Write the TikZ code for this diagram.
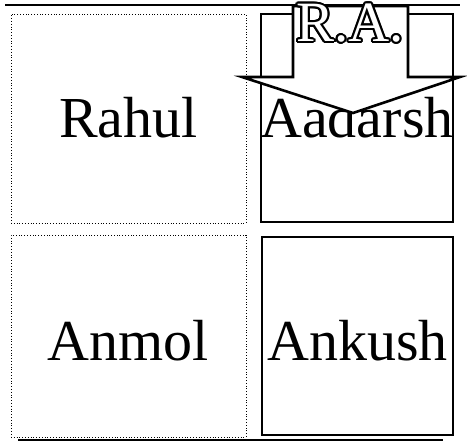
\documentclass[tikz,border=0pt]{standalone}
\usepackage{fontspec}
\setmainfont{Liberation Serif}
\usepackage{contour}
\contourlength{2pt}
\usetikzlibrary{positioning}

\begin{document}
\begin{tikzpicture}[
  x=1pt, y=-1pt,
  cell/.style={draw, inner sep=0pt},
  loosecell/.style={cell, dotted, line width=0.8pt},
  tightcell/.style={cell, line width=2pt},
  person/.style={inner sep=0pt, font=\fontsize{58}{60}\selectfont},
  blockarrow/.style={draw, fill=white, line width=2.6pt, line join=miter},
  rule/.style={line width=2pt}
]
  \useasboundingbox (0,0) rectangle (467,445);

  % frame lines
  \coordinate (topl) at (5,5);
  \coordinate (topr) at (460,5);
  \coordinate (botl) at (18,440);
  \coordinate (botr) at (443,440);
  \draw[rule] (topl) -- (topr);
  \draw[rule] (botl) -- (botr);

  % the four cells
  \node[loosecell, minimum width=235pt, minimum height=209pt] (rahulcell) at (128.5,118.5) {};
  \node[tightcell, minimum width=192pt, minimum height=208pt] (aadarshcell) at (357,118) {};
  \node[loosecell, minimum width=235pt, minimum height=202pt] (anmolcell) at (128.5,336) {};
  \node[tightcell, minimum width=191pt, minimum height=198pt] (ankushcell) at (357.5,336) {};

  \node[person] (rahul) at ([yshift=1pt]rahulcell.center) {Rahul};
  \node[person] (aadarsh) at ([yshift=0.5pt]aadarshcell.center) {Aadarsh};
  \node[person] (anmol) at ([yshift=-5pt]anmolcell.center) {Anmol};
  \node[person] (ankush) at ([yshift=-4.5pt]ankushcell.center) {Ankush};

  % block arrow over Aadarsh
  \draw[blockarrow] (293,6) -- (293,77) -- (242,77) -- (353,113) -- (460,77)
    -- (408,77) -- (408,6) -- cycle;
  \node[inner sep=0pt, font=\fontsize{57}{58}\selectfont] (ra) at (350,24)
    {\contour{black}{\textcolor{white}{R.A.}}};
\end{tikzpicture}
\end{document}
